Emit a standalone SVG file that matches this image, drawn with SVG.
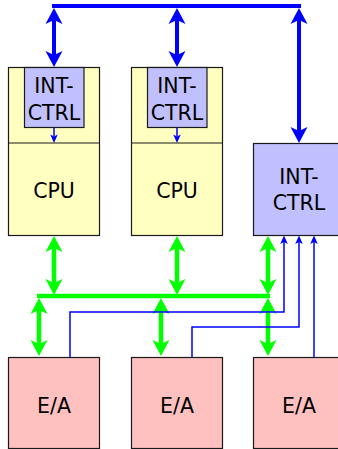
<svg xmlns="http://www.w3.org/2000/svg" width="338" height="449" viewBox="0 0 338 449">
  <style>
    .box { stroke: #1a1a1a; stroke-width: 1.2; }
    .cpu { fill: #ffffc0; }
    .ic { fill: #c0c0ff; }
    .io { fill: #ffc0c0; }
    .lbl { font-family: "DejaVu Sans", "Liberation Sans", sans-serif; font-size: 20.5px; fill: #000; text-anchor: middle; }
    .bb { stroke: #0000ff; stroke-width: 4; fill: none; }
    .gb { stroke: #00ff00; stroke-width: 4.5; fill: none; }
    .tb { stroke: #0000ff; stroke-width: 1.5; fill: none; }
  </style>
  <defs>
    <marker id="ab" markerUnits="userSpaceOnUse" orient="auto-start-reverse" refX="0" refY="0" markerWidth="1" markerHeight="1" overflow="visible">
      <path d="M12,0 L-4,-8.5 L0,0 L-4,8.5 Z" fill="#0000ff"/>
    </marker>
    <marker id="ag" markerUnits="userSpaceOnUse" orient="auto-start-reverse" refX="0" refY="0" markerWidth="1" markerHeight="1" overflow="visible">
      <path d="M12,0 L-4,-8.5 L0,0 L-4,8.5 Z" fill="#00ff00"/>
    </marker>
    <marker id="at" markerUnits="userSpaceOnUse" orient="auto" refX="0" refY="0" markerWidth="1" markerHeight="1" overflow="visible">
      <path d="M6.5,0 L-2,-3.8 L0,0 L-2,3.8 Z" fill="#0000ff"/>
    </marker>
  </defs>

  <g id="cpu1">
    <rect class="box cpu" x="8.5" y="67.5" width="91" height="168"/>
    <line class="box" x1="8.5" y1="143" x2="99.5" y2="143"/>
    <text class="lbl" x="54" y="198">CPU</text>
  </g>
  <g id="intctrl1">
    <rect class="box ic" x="24.5" y="67.5" width="59.5" height="60"/>
    <text class="lbl" x="54" y="93">INT-</text>
    <text class="lbl" x="54" y="119.5">CTRL</text>
  </g>
  <g id="cpu2">
    <rect class="box cpu" x="131.5" y="67.5" width="91" height="168"/>
    <line class="box" x1="131.5" y1="143" x2="222.5" y2="143"/>
    <text class="lbl" x="177" y="198">CPU</text>
  </g>
  <g id="intctrl2">
    <rect class="box ic" x="147.5" y="67.5" width="59.5" height="60"/>
    <text class="lbl" x="177" y="93">INT-</text>
    <text class="lbl" x="177" y="119.5">CTRL</text>
  </g>
  <g id="intctrl3">
    <rect class="box ic" x="253.5" y="143.5" width="91" height="92"/>
    <text class="lbl" x="299" y="183.5">INT-</text>
    <text class="lbl" x="299" y="210">CTRL</text>
  </g>
  <g id="io1">
    <rect class="box io" x="8.5" y="357.5" width="91" height="91"/>
    <text class="lbl" x="54" y="412.5">E/A</text>
  </g>
  <g id="io2">
    <rect class="box io" x="131.5" y="357.5" width="91" height="91"/>
    <text class="lbl" x="177" y="412.5">E/A</text>
  </g>
  <g id="io3">
    <rect class="box io" x="253.5" y="357.5" width="91" height="91"/>
    <text class="lbl" x="299" y="412.5">E/A</text>
  </g>

  <g id="connectors">
    <!-- top blue bus -->
    <line class="bb" x1="52" y1="6" x2="301" y2="6"/>
    <line class="bb" x1="54" y1="20" x2="54" y2="55" marker-start="url(#ab)" marker-end="url(#ab)"/>
    <line class="bb" x1="177" y1="20" x2="177" y2="55" marker-start="url(#ab)" marker-end="url(#ab)"/>
    <line class="bb" x1="299" y1="20" x2="299" y2="131" marker-start="url(#ab)" marker-end="url(#ab)"/>
    <!-- internal small arrows -->
    <line class="tb" x1="54" y1="127.5" x2="54" y2="136.5" marker-end="url(#at)"/>
    <line class="tb" x1="177" y1="127.5" x2="177" y2="136.5" marker-end="url(#at)"/>
    <!-- green bus -->
    <line class="gb" x1="37" y1="296" x2="270" y2="296"/>
    <line class="gb" x1="54" y1="248" x2="54" y2="283" marker-start="url(#ag)" marker-end="url(#ag)"/>
    <line class="gb" x1="177" y1="248" x2="177" y2="283" marker-start="url(#ag)" marker-end="url(#ag)"/>
    <line class="gb" x1="268" y1="248" x2="268" y2="283" marker-start="url(#ag)" marker-end="url(#ag)"/>
    <line class="gb" x1="39" y1="310" x2="39" y2="344" marker-start="url(#ag)" marker-end="url(#ag)"/>
    <line class="gb" x1="161" y1="310" x2="161" y2="344" marker-start="url(#ag)" marker-end="url(#ag)"/>
    <line class="gb" x1="268" y1="310" x2="268" y2="344" marker-start="url(#ag)" marker-end="url(#ag)"/>
    <!-- interrupt lines -->
    <path class="tb" d="M70,357 V312 H284 V242" marker-end="url(#at)"/>
    <path class="tb" d="M192,357 V327 H299 V242" marker-end="url(#at)"/>
    <path class="tb" d="M314,357 V242" marker-end="url(#at)"/>
  </g>
</svg>
